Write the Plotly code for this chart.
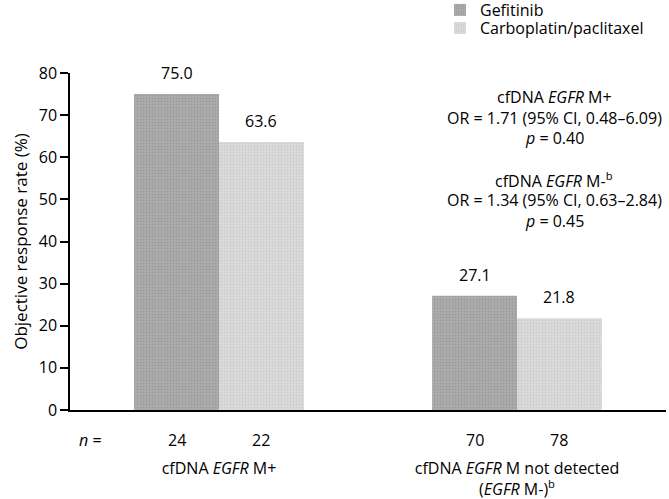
import plotly.graph_objects as go

categories = ["cfDNA EGFR M+", "cfDNA EGFR M not detected"]
tick_labels = ["cfDNA <i>EGFR</i> M+", "cfDNA <i>EGFR</i> M not detected<br>(<i>EGFR</i> M-)<sup>b</sup>"]
gefitinib = [75.0, 27.1]
carboplatin = [63.6, 21.8]
n_gefitinib = [24, 70]
n_carboplatin = [22, 78]
stats_lines = [
    "cfDNA <i>EGFR</i> M+",
    "OR = 1.71 (95% CI, 0.48–6.09)",
    "<i>p</i> = 0.40",
    "cfDNA <i>EGFR</i> M-<sup>b</sup>",
    "OR = 1.34 (95% CI, 0.63–2.84)",
    "<i>p</i> = 0.45",
]

FONT = "Open Sans"
FS = 16
W, H = 669, 499
L, R, T, B = 70, 3, 73, 89
plot_w = W - L - R
plot_h = H - T - B
bargap = 0.43
bar_px = plot_w / len(categories) * (1 - bargap) / 2


def py(pix):
    return (H - B - pix) / plot_h


def px(pix):
    return (pix - L) / plot_w


fig = go.Figure()
fig.add_bar(
    x=categories, y=gefitinib, name="Gefitinib", legend="legend",
    marker=dict(color="#adadad", line=dict(width=0),
                pattern=dict(shape=".", fgcolor="#858585", bgcolor="#adadad", size=3, solidity=0.35)),
)
fig.add_bar(
    x=categories, y=carboplatin, name="Carboplatin/paclitaxel", legend="legend2",
    marker=dict(color="#d8d8d8", line=dict(width=0),
                pattern=dict(shape=".", fgcolor="#b8b8b8", bgcolor="#dcdcdc", size=3, solidity=0.35)),
)

txtfont = dict(size=FS, family=FONT, color="black")
ann = []
for i, c in enumerate(categories):
    for val, n, sgn in ((gefitinib[i], n_gefitinib[i], -1), (carboplatin[i], n_carboplatin[i], 1)):
        ann.append(dict(x=c, y=val, xref="x", yref="y", xshift=sgn * bar_px / 2, yshift=21,
                        text=f"{val:.1f}", showarrow=False, yanchor="middle", font=txtfont))
        ann.append(dict(x=c, y=py(440), xref="x", yref="paper", xshift=sgn * bar_px / 2,
                        text=str(n), showarrow=False, yanchor="middle", font=txtfont))
ann.append(dict(x=px(90), y=py(440), xref="paper", yref="paper", text="<i>n</i> =",
                showarrow=False, yanchor="middle", xanchor="center", font=txtfont))

line_y = [97, 118, 138, 180, 200, 221]
for txt, yy in zip(stats_lines, line_y):
    ann.append(dict(x=px(554), y=py(yy), xref="paper", yref="paper", text=txt,
                    showarrow=False, xanchor="center", yanchor="middle", font=txtfont))

leg_common = dict(xref="paper", yref="paper", xanchor="left", yanchor="middle",
                  font=dict(size=FS, family=FONT, color="black"), bgcolor="rgba(0,0,0,0)",
                  borderwidth=0)

fig.update_layout(
    width=W, height=H,
    margin=dict(l=L, r=R, t=T, b=B, autoexpand=False),
    paper_bgcolor="white", plot_bgcolor="white",
    barmode="group", bargap=bargap, bargroupgap=0,
    font=dict(family=FONT, size=FS, color="black"),
    showlegend=True,
    legend=dict(x=px(440), y=py(10), **leg_common),
    legend2=dict(x=px(440), y=py(28), **leg_common),
    annotations=ann,
    xaxis=dict(type="category", tickmode="array", tickvals=categories, ticktext=tick_labels,
               showline=True, linecolor="black", linewidth=1.5, ticks="", showgrid=False,
               zeroline=False, ticklabelstandoff=43, automargin=False,
               tickfont=dict(size=FS, family=FONT)),
    yaxis=dict(range=[0, 80], dtick=10, showline=True, linecolor="black", linewidth=1.5,
               ticks="outside", ticklen=8, tickwidth=1.5, tickcolor="black", showgrid=False,
               zeroline=False, automargin=False, tickfont=dict(size=FS, family=FONT),
               title=dict(text="Objective response rate (%)", standoff=7,
                          font=dict(size=17, family=FONT))),
)

fig.write_html("out.html", config={"displayModeBar": False},
               post_script="document.body.style.margin='0';document.body.style.overflow='hidden';")
